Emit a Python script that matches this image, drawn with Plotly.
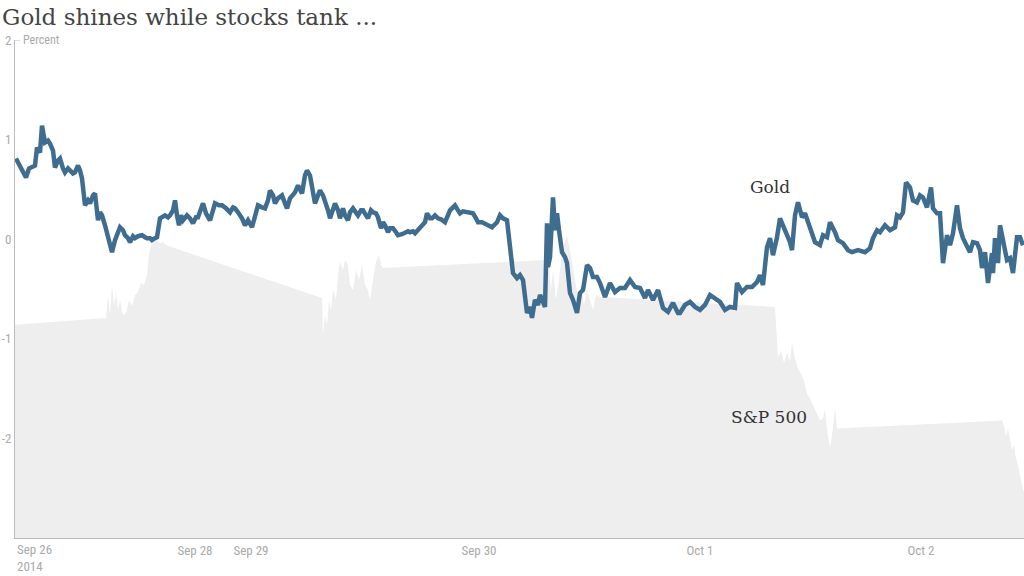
import plotly.graph_objects as go

# ---- data (percent change, positions on a trading-time index axis) ----
gold_t = [1, 5, 8, 11, 14, 17, 20, 22, 25, 27, 30, 33, 35, 38, 40, 43, 45, 48, 50, 53, 55, 58, 60, 63, 65, 67, 70, 73,
          75, 78, 80, 83, 85, 87, 90, 93, 95, 97, 100, 103, 105, 108, 110, 113, 115, 118, 120, 123, 127, 130, 132, 135,
          137, 140, 142, 145, 148, 150, 153, 155, 158, 160, 162, 164, 166, 168, 172, 175, 178, 181, 183, 186, 188, 191,
          195, 198, 200, 204, 207, 211, 215, 218, 220, 223, 227, 230, 233, 237, 240, 243, 247, 250, 253, 255, 258, 260,
          263, 267, 270, 272, 275, 277, 280, 283, 285, 287, 290, 292, 295, 297, 300, 303, 305, 308, 310, 313, 315, 318,
          320, 323, 325, 328, 330, 333, 335, 338, 341, 343, 346, 348, 351, 353, 356, 358, 361, 363, 366, 368, 370, 373,
          375, 378, 381, 383, 387, 390, 393, 395, 398, 400, 403, 407, 410, 412, 415, 417, 420, 423, 426, 430, 433, 435,
          438, 440, 443, 445, 448, 452, 455, 458, 461, 463, 467, 470, 473, 477, 480, 482, 485, 488, 492, 494, 496, 498,
          502, 505, 508, 510, 512, 515, 517, 520, 523, 525, 528, 530, 532, 533, 535, 538, 540, 542, 544, 547, 550, 552,
          555, 558, 562, 565, 568, 572, 575, 578, 582, 585, 590, 595, 600, 605, 610, 615, 620, 625, 630, 633, 638, 643,
          648, 653, 658, 663, 665, 670, 675, 680, 685, 690, 695, 700, 705, 710, 715, 720, 722, 727, 732, 737, 742, 745,
          748, 752, 755, 758, 762, 765, 768, 772, 775, 777, 780, 783, 787, 790, 795, 800, 805, 808, 812, 815, 820, 823,
          828, 833, 837, 843, 850, 855, 858, 862, 865, 870, 875, 880, 882, 885, 888, 891, 895, 898, 902, 905, 908, 912,
          916, 918, 922, 925, 928, 932, 935, 938, 942, 945, 948, 952, 955, 958, 962, 965, 967, 970, 973, 977, 978, 980,
          983, 985, 988, 992, 995, 998, 1002, 1005, 1008]
gold_pct = [0.81, 0.74, 0.69, 0.62, 0.71, 0.72, 0.74, 0.92, 0.87, 1.14, 0.97, 0.99, 0.96, 0.89, 0.72, 0.79, 0.81, 0.71,
            0.67, 0.71, 0.69, 0.66, 0.67, 0.74, 0.69, 0.61, 0.34, 0.39, 0.36, 0.44, 0.46, 0.19, 0.27, 0.24, 0.14, 0.04,
            -0.06, -0.13, -0.01, 0.07, 0.12, 0.09, 0.04, 0.01, -0.03, 0.03, 0.01, 0.03, 0.04, 0.02, 0.01, 0.01, -0.01,
            0.01, 0.02, 0.21, 0.23, 0.24, 0.22, 0.24, 0.29, 0.39, 0.24, 0.14, 0.24, 0.19, 0.24, 0.21, 0.16, 0.22, 0.22,
            0.31, 0.36, 0.26, 0.19, 0.29, 0.36, 0.34, 0.34, 0.31, 0.27, 0.32, 0.31, 0.27, 0.21, 0.14, 0.19, 0.12, 0.24,
            0.34, 0.32, 0.31, 0.39, 0.49, 0.44, 0.36, 0.41, 0.44, 0.36, 0.31, 0.41, 0.44, 0.47, 0.54, 0.51, 0.46, 0.64,
            0.69, 0.64, 0.54, 0.36, 0.44, 0.49, 0.44, 0.39, 0.29, 0.21, 0.31, 0.36, 0.29, 0.21, 0.31, 0.24, 0.19, 0.27,
            0.31, 0.27, 0.24, 0.29, 0.29, 0.24, 0.21, 0.29, 0.27, 0.26, 0.22, 0.11, 0.17, 0.14, 0.07, 0.11, 0.11, 0.07,
            0.04, 0.05, 0.06, 0.08, 0.07, 0.08, 0.06, 0.09, 0.14, 0.17, 0.26, 0.21, 0.21, 0.24, 0.21, 0.20, 0.17, 0.24,
            0.29, 0.32, 0.34, 0.29, 0.26, 0.28, 0.27, 0.26, 0.26, 0.21, 0.17, 0.17, 0.16, 0.14, 0.12, 0.15, 0.17, 0.24,
            0.21, 0.19, -0.01, -0.23, -0.34, -0.39, -0.36, -0.41, -0.56, -0.74, -0.68, -0.79, -0.61, -0.66, -0.56, -0.64,
            -0.68, 0.16, -0.28, -0.18, 0.42, 0.09, 0.26, 0.09, -0.13, -0.18, -0.24, -0.54, -0.61, -0.74, -0.54, -0.51,
            -0.26, -0.29, -0.38, -0.38, -0.44, -0.58, -0.44, -0.53, -0.49, -0.49, -0.41, -0.48, -0.49, -0.59, -0.51,
            -0.61, -0.51, -0.69, -0.73, -0.64, -0.74, -0.74, -0.66, -0.63, -0.68, -0.71, -0.66, -0.56, -0.59, -0.63,
            -0.71, -0.68, -0.69, -0.44, -0.53, -0.48, -0.48, -0.43, -0.36, -0.46, -0.08, 0.01, -0.16, 0.02, 0.21, 0.14,
            0.04, -0.03, -0.11, 0.24, 0.37, 0.22, 0.26, 0.12, -0.03, -0.06, 0.04, 0.02, 0.17, 0.07, -0.01, -0.04, -0.11,
            -0.13, -0.11, -0.13, -0.09, 0.01, 0.09, 0.07, 0.14, 0.09, 0.12, 0.24, 0.22, 0.27, 0.57, 0.52, 0.39, 0.37,
            0.44, 0.42, 0.32, 0.52, 0.31, 0.26, 0.26, -0.24, 0.04, -0.06, 0.06, 0.34, 0.11, 0.01, -0.06, -0.13, -0.03,
            -0.04, -0.11, -0.29, -0.13, -0.44, -0.14, -0.34, 0.01, -0.24, 0.14, -0.01, -0.21, -0.19, -0.34, 0.02, 0.02,
            -0.06]

sp_t = [0, 91, 93, 95, 97, 99, 101, 103, 105, 108, 111, 114, 117, 120, 123, 126, 129, 132, 134, 136, 139, 142, 145,
        148, 151, 307, 308, 310, 312, 314, 316, 318, 321, 323, 325, 328, 330, 333, 335, 338, 341, 344, 347, 350, 353,
        355, 358, 361, 364, 366, 368, 530, 532, 534, 536, 538, 541, 544, 547, 550, 552, 554, 557, 560, 563, 566, 569,
        572, 575, 578, 581, 585, 760, 763, 766, 769, 772, 775, 777, 780, 783, 786, 789, 792, 795, 798, 802, 805, 808,
        810, 812, 815, 817, 820, 822, 987, 989, 991, 993, 995, 997, 999, 1001, 1003, 1005, 1007, 1009]
sp_pct = [-0.86, -0.79, -0.56, -0.76, -0.46, -0.67, -0.54, -0.71, -0.61, -0.76, -0.74, -0.61, -0.67, -0.56, -0.53,
          -0.44, -0.46, -0.36, -0.15, -0.06, -0.03, -0.01, -0.04, -0.03, -0.06, -0.59, -0.96, -0.76, -0.86, -0.61,
          -0.71, -0.51, -0.61, -0.36, -0.23, -0.31, -0.21, -0.26, -0.46, -0.51, -0.31, -0.41, -0.26, -0.46, -0.51,
          -0.61, -0.41, -0.23, -0.16, -0.26, -0.29, -0.21, -0.36, -0.26, -0.51, -0.31, -0.61, -0.41, -0.11, -0.01,
          0.04, -0.06, -0.26, -0.41, -0.56, -0.46, -0.66, -0.51, -0.61, -0.71, -0.56, -0.58, -0.68, -1.19, -1.12,
          -1.24, -1.14, -1.22, -1.04, -1.20, -1.30, -1.35, -1.42, -1.55, -1.60, -1.67, -1.75, -1.82, -1.80, -1.70,
          -1.92, -2.09, -1.97, -1.70, -1.90, -1.82, -1.87, -1.97, -1.90, -2.02, -2.12, -2.07, -2.20, -2.27, -2.39,
          -2.47, -2.54]

tick_t = [180, 236, 464, 685, 906]
tick_labels = ["Sep 28", "Sep 29", "Sep 30", "Oct 1", "Oct 2"]
y_ticks = [-2, -1, 0, 1, 2]
y_labels = ["-2", "-1", "0", "1", "2"]

AXIS_MIN = -3
TICK_FONT = "Liberation Sans Narrow, Roboto Condensed, Roboto, sans-serif"
SERIF = "DejaVu Serif, Georgia, serif"

fig = go.Figure()
# baseline for the S&P area
fig.add_trace(go.Scatter(x=[sp_t[0], sp_t[-1]], y=[AXIS_MIN, AXIS_MIN], mode="lines",
                         line=dict(width=0, color="rgba(0,0,0,0)"), hoverinfo="skip", showlegend=False))
fig.add_trace(go.Scatter(x=sp_t, y=sp_pct, mode="lines", name="S&P 500", fill="tonexty",
                         fillcolor="#eeeeee", line=dict(width=0, color="#eeeeee"), showlegend=False))
fig.add_trace(go.Scatter(x=gold_t, y=gold_pct, mode="lines", name="Gold",
                         line=dict(width=4.5, color="#3f6d8f"), showlegend=False))

fig.update_layout(
    width=1024, height=576,
    margin=dict(l=15, r=0, t=40, b=38),
    paper_bgcolor="white", plot_bgcolor="white",
    title=dict(text="Gold shines while stocks tank ...", x=0.002, xanchor="left", y=0.984, yanchor="top",
               font=dict(family=SERIF, size=23, color="#444444")),
    xaxis=dict(range=[0, 1009], showgrid=False, zeroline=False, showline=True, linecolor="#bbbbbb",
               linewidth=1, tickvals=tick_t, ticktext=tick_labels, ticks="",
               tickfont=dict(family=TICK_FONT, size=13, color="#aaaaaa")),
    yaxis=dict(range=[AXIS_MIN, 2], showgrid=False, zeroline=False, showline=True, linecolor="#bbbbbb",
               linewidth=1, tickvals=y_ticks, ticktext=y_labels, ticks="",
               tickfont=dict(family=TICK_FONT, size=13, color="#aaaaaa")),
    annotations=[
        dict(text="Sep 26<br>2014", xref="x", yref="paper", x=0, y=0, xanchor="left", yanchor="top",
             yshift=-2, showarrow=False, align="left", font=dict(family=TICK_FONT, size=13, color="#aaaaaa")),
        dict(text="Percent", xref="paper", yref="y", x=0, y=2, xanchor="left", yanchor="middle",
             xshift=6, showarrow=False, font=dict(family=TICK_FONT, size=12, color="#aaaaaa")),
        dict(text="Gold", xref="x", yref="y", x=755, y=0.52, showarrow=False,
             font=dict(family=SERIF, size=17, color="#333333")),
        dict(text="S&P 500", xref="x", yref="y", x=754, y=-1.79, showarrow=False,
             font=dict(family=SERIF, size=17, color="#333333")),
    ],
    shapes=[dict(type="line", xref="paper", yref="y", x0=-0.001, x1=0.005, y0=2, y1=2,
                 line=dict(color="#bbbbbb", width=1))],
)

fig.write_html("out.html", config={"displayModeBar": False},
               post_script="document.body.style.margin='0';document.body.style.overflow='hidden';")
